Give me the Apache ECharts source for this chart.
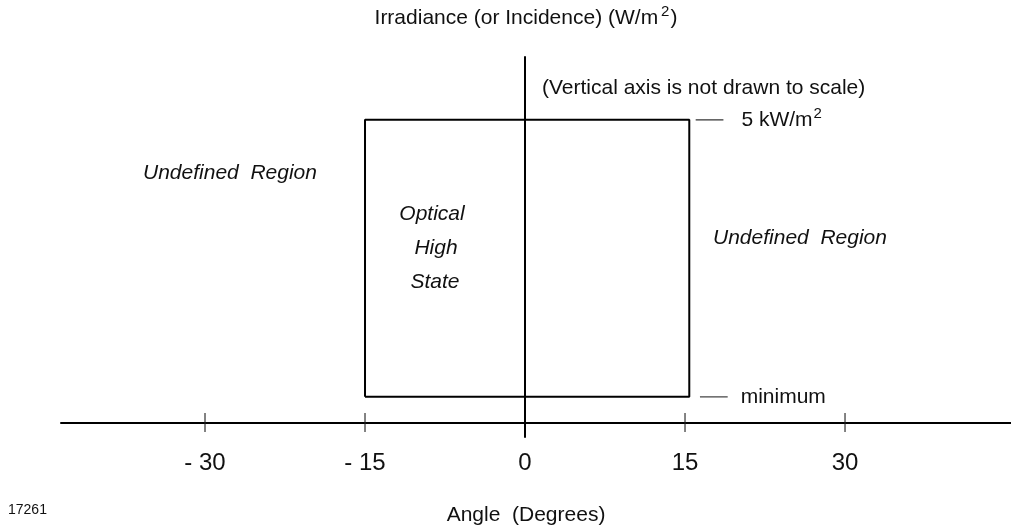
<!DOCTYPE html>
<html>
<head>
<meta charset="utf-8">
<script src="https://cdn.jsdelivr.net/npm/echarts@6/dist/echarts.min.js"></script>
<style>
html,body{margin:0;padding:0;background:#fff;}
#c{width:1011px;height:529px;}
</style>
</head>
<body>
<div id="c"></div>
<script>
// ---- data ----
const tickAngles = [-30, -15, 0, 15, 30];          // x-axis tick values (degrees)
const boxAngles = [-15, 15.4];                       // left / right edge of Optical High State box
const boxLevels = [7, 82.8];                         // "minimum" and "5 kW/m2" (not to scale)
const axisRange = [-43.5, 45.56];                    // x-axis extent (degrees)
const vertRange = [-4, 100];                         // vertical extent (arbitrary, not to scale)
const leaderTop = [16.0, 18.6];                      // leader dash for 5 kW/m2
const leaderBottom = [16.4, 19.0];                   // leader dash for minimum

const FONT = '"Liberation Sans", Arial, Helvetica, sans-serif';
const FS = 21;

const boxPoly = [
  [boxAngles[0], boxLevels[0]],
  [boxAngles[0], boxLevels[1]],
  [boxAngles[1], boxLevels[1]],
  [boxAngles[1], boxLevels[0]],
  [boxAngles[0], boxLevels[0]]
];

const chart = echarts.init(document.getElementById('c'), null, {renderer: 'canvas'});

function txt(text, x, y, opts) {
  return {
    type: 'text', x: x, y: y,
    style: Object.assign({text: text, fontSize: FS, fontFamily: FONT, fill: '#111', align: 'left', verticalAlign: 'middle'}, opts || {})
  };
}

const option = {
  backgroundColor: '#fff',
  animation: false,
  grid: {left: 61, right: 0, top: 57, bottom: 92},
  xAxis: {
    type: 'value',
    min: axisRange[0], max: axisRange[1],
    axisLine: {onZero: true, lineStyle: {color: '#000', width: 2}},
    axisTick: {show: false},
    splitLine: {show: false},
    axisLabel: {
      customValues: tickAngles,
      margin: 14,
      fontSize: 24,
      fontFamily: FONT,
      color: '#111',
      formatter: v => v < 0 ? '- ' + Math.abs(v) : String(v)
    }
  },
  yAxis: {
    type: 'value',
    min: vertRange[0], max: vertRange[1],
    axisLine: {show: true, onZero: true, lineStyle: {color: '#000', width: 2}},
    axisTick: {show: false},
    axisLabel: {show: false},
    splitLine: {show: false}
  },
  series: [
    {
      type: 'line', data: boxPoly, symbol: 'none', z: 3,
      lineStyle: {color: '#000', width: 2}
    },
    {
      type: 'scatter', z: 4,
      data: tickAngles.filter(t => t !== 0).map(t => [t, 0]),
      symbol: 'rect', symbolSize: [1.4, 19],
      itemStyle: {color: '#222'}
    },
    {
      type: 'line', symbol: 'none', z: 3,
      data: [[leaderTop[0], boxLevels[1]], [leaderTop[1], boxLevels[1]]],
      lineStyle: {color: '#333', width: 1.2},
      endLabel: {
        show: true, distance: 18,
        formatter: '{a|5 kW/m}{s|2}',
        rich: {
          a: {fontSize: FS, fontFamily: FONT, color: '#111', lineHeight: 26},
          s: {fontSize: 15, fontFamily: FONT, color: '#111', verticalAlign: 'top', lineHeight: 26, padding: [0, 0, 12, 1]}
        }
      }
    },
    {
      type: 'line', symbol: 'none', z: 3,
      data: [[leaderBottom[0], boxLevels[0]], [leaderBottom[1], boxLevels[0]]],
      lineStyle: {color: '#444', width: 1.2},
      endLabel: {
        show: true, distance: 13,
        formatter: 'minimum',
        fontSize: FS, fontFamily: FONT, color: '#111'
      }
    }
  ],
  graphic: [
    {
      type: 'text', x: 526, y: 18,
      style: {
        text: '{a|Irradiance (or Incidence) (W/m}{s|2}{a|)}',
        align: 'center', verticalAlign: 'middle',
        rich: {
          a: {fontSize: FS, fontFamily: FONT, fill: '#111', lineHeight: 26},
          s: {fontSize: 15, fontFamily: FONT, fill: '#111', lineHeight: 26, padding: [0, 1, 12, 3]}
        }
      }
    },
    txt('(Vertical axis is not drawn to scale)', 542, 88),
    txt('Undefined  Region', 143, 173, {fontStyle: 'italic'}),
    txt('Undefined  Region', 713, 238, {fontStyle: 'italic'}),
    txt('Optical', 432, 214, {fontStyle: 'italic', align: 'center'}),
    txt('High', 436, 248, {fontStyle: 'italic', align: 'center'}),
    txt('State', 435, 282, {fontStyle: 'italic', align: 'center'}),
    txt('Angle  (Degrees)', 526, 515, {align: 'center'}),
    txt('17261', 8, 510, {fontSize: 14})
  ]
};

chart.setOption(option);
</script>
</body>
</html>
